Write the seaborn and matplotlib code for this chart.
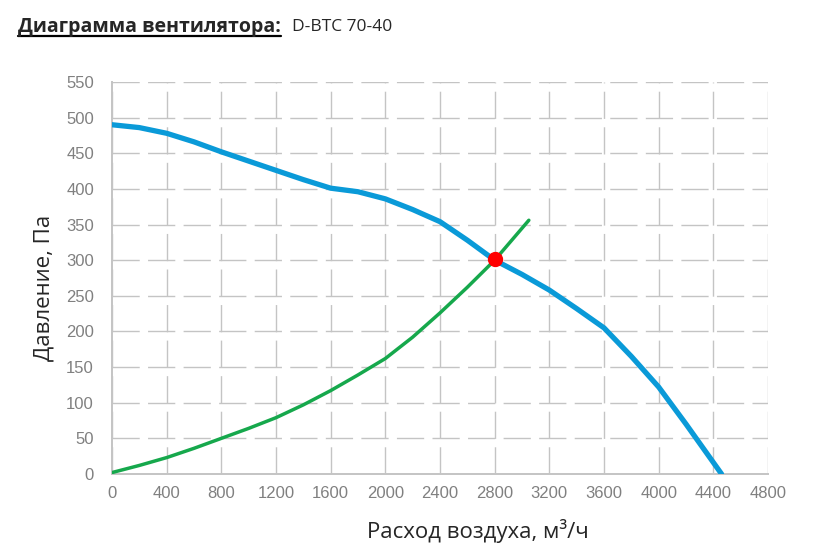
import pandas as pd
import numpy as np
import matplotlib
matplotlib.use("Agg")
import matplotlib.pyplot as plt
import seaborn as sns

# fan curve (blue)
fan_flow = [0, 200, 400, 600, 800, 1000, 1200, 1400, 1600, 1800, 2000, 2200,
            2400, 2600, 2800, 3000, 3200, 3400, 3600, 3800, 4000, 4200, 4460]
fan_pressure = [490, 486, 478, 466, 452, 439, 426, 413, 401, 396, 386, 371,
                354, 328, 300, 280, 258, 232, 205, 165, 122, 70, 0]

# network curve (green)
net_flow = [0, 200, 400, 600, 800, 1000, 1200, 1400, 1600, 1800, 2000, 2200,
            2400, 2600, 2800, 3050]
net_pressure = [2, 12, 23, 36, 50, 64, 79, 97, 117, 139, 162, 192,
                226, 262, 300, 356]

# working point
work_flow = [2800]
work_pressure = [301]

x_ticks = list(range(0, 4801, 400))
y_ticks = list(range(0, 551, 50))

sns.set_style("white")
plt.rcParams['font.family'] = ['Liberation Sans', 'DejaVu Sans']
plt.rcParams['lines.solid_joinstyle'] = 'round'

fan = pd.DataFrame({'flow': fan_flow, 'pressure': fan_pressure})
net = pd.DataFrame({'flow': net_flow, 'pressure': net_pressure})

fig = plt.figure(figsize=(8.2, 5.6), dpi=100)
ax = fig.add_axes([0.1366, 0.1536, 0.80, 0.70])

sns.lineplot(data=net, x='flow', y='pressure', sort=False, color='#16a84c',
             linewidth=2.5, ax=ax, zorder=3)
sns.lineplot(data=fan, x='flow', y='pressure', sort=False, color='#0a9ad8',
             linewidth=3.8, ax=ax, zorder=4)
ax.plot(work_flow, work_pressure, 'o', color='#ff0000', markersize=10, zorder=5)

ax.set_xlim(0, 4800)
ax.set_ylim(0, 550)
ax.set_xticks(x_ticks)
ax.set_yticks(y_ticks)
ax.grid(True, color='#c4c4c4', linestyle=(0, (19.6, 6)), linewidth=1.0)
ax.set_axisbelow(True)
for side in ['top', 'right']:
    ax.spines[side].set_visible(False)
for side in ['left', 'bottom']:
    ax.spines[side].set_color('#c4c4c4')
    ax.spines[side].set_linewidth(1.4)
ax.tick_params(axis='x', length=0, labelsize=12, labelcolor='#808080', pad=9)
ax.tick_params(axis='y', length=0, labelsize=12, labelcolor='#808080', pad=13)

ax.set_xlabel('Расход воздуха, м³/ч', fontsize=16, family=['Open Sans', 'DejaVu Sans'])
ax.xaxis.set_label_coords(0.558, -0.115)
ax.set_ylabel('Давление, Па', fontsize=16, family=['Open Sans', 'DejaVu Sans'])
ax.yaxis.set_label_coords(-0.088, 0.474)

t = fig.text(0.022, 0.952, 'Диаграмма вентилятора:', fontsize=14, fontweight='bold',
             family=['Open Sans', 'DejaVu Sans'], va='center')
fig.text(0.356, 0.952, 'D-BTC 70-40', fontsize=12.5,
         family=['Open Sans', 'DejaVu Sans'], va='center')

# underline the title
fig.canvas.draw()
bb = t.get_window_extent().transformed(fig.transFigure.inverted())
fig.add_artist(plt.Line2D([bb.x0, bb.x1], [bb.y0 + 0.002, bb.y0 + 0.002],
                          color='black', linewidth=1.6, transform=fig.transFigure))

fig.savefig('out.png', dpi=100)
